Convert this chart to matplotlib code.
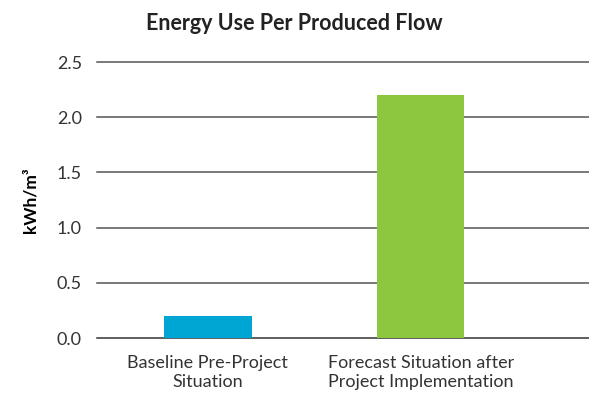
import matplotlib
matplotlib.use("Agg")
import matplotlib.pyplot as plt

CATEGORIES = ["Baseline Pre-Project\nSituation", "Forecast Situation after\nProject Implementation"]
VALUES = [0.2, 2.2]
COLORS = ["#00A6D3", "#8DC63F"]
YTICKS = [0.0, 0.5, 1.0, 1.5, 2.0, 2.5]

plt.rcParams.update({
    "font.family": ["Lato", "DejaVu Sans"],
    "text.color": "#222222",
})

fig = plt.figure(figsize=(5.89, 4.03), dpi=100)
ax = fig.add_axes([0.165, 0.161, 0.835, 0.685])

x = range(len(CATEGORIES))
ax.bar(x, VALUES, width=0.41, color=COLORS, zorder=3)

ax.set_xlim(-0.52, 1.79)
ax.set_ylim(0, 2.5)
ax.set_yticks(YTICKS)
ax.set_yticklabels([f"{v:.1f}" for v in YTICKS], fontsize=13, color="#333333")
ax.set_xticks(list(x))
ax.set_xticklabels(CATEGORIES, fontsize=13, color="#333333", linespacing=1.25)

for v in YTICKS:
    ax.axhline(v, color="#555555" if v else "#333333", linewidth=1.1, zorder=1, clip_on=False)

for s in ax.spines.values():
    s.set_visible(False)
ax.tick_params(axis="both", length=0)
ax.tick_params(axis="y", pad=11)
ax.tick_params(axis="x", pad=12)

ax.set_ylabel("kWh/m³", fontsize=12.5, fontweight="bold", labelpad=13)
fig.suptitle("Energy Use Per Produced Flow", x=0.5, y=0.968, fontsize=15.5, fontweight="bold")

fig.savefig("out.png", dpi=100)
